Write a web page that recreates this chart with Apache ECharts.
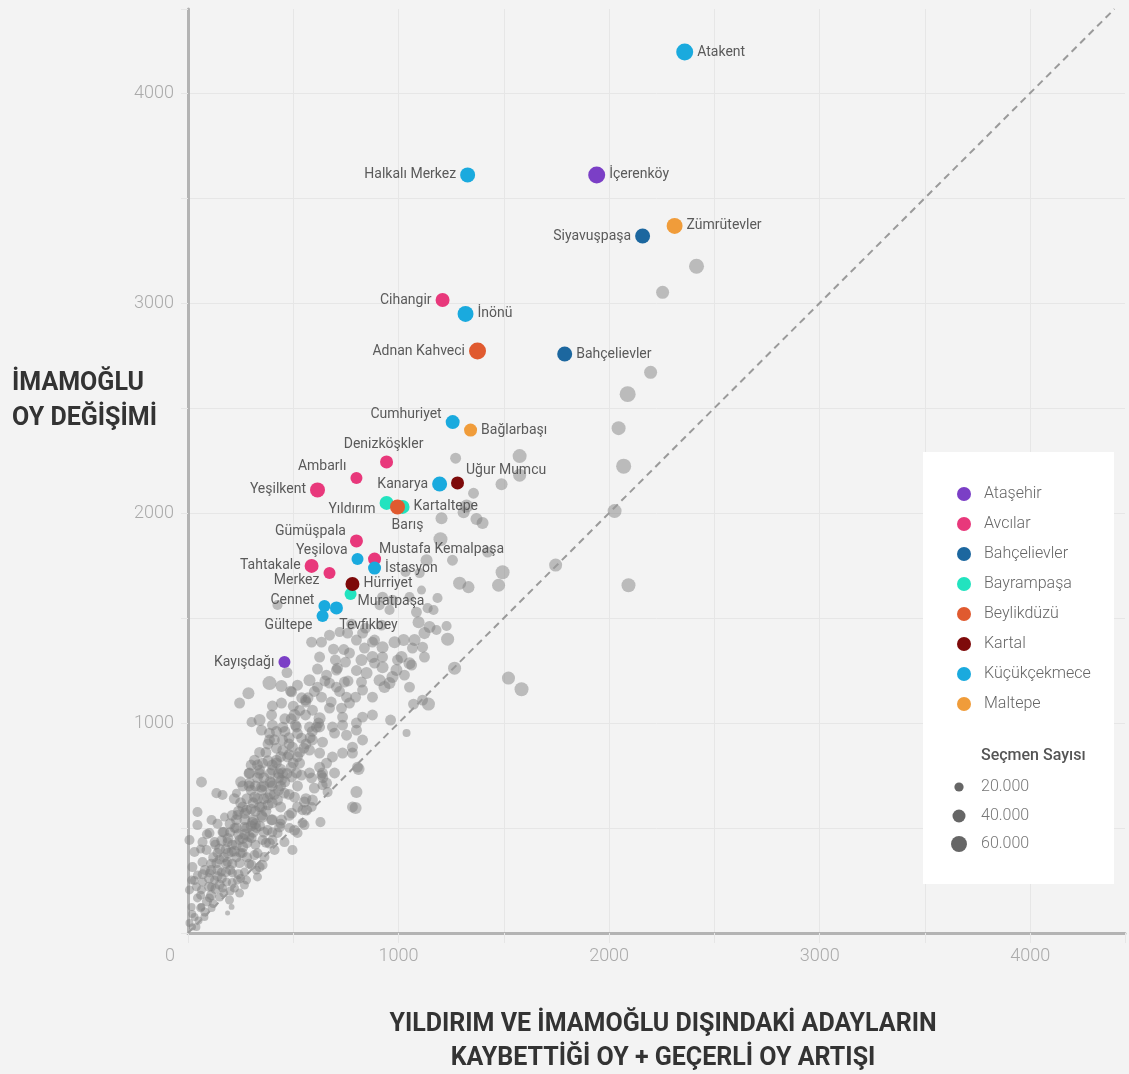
<!DOCTYPE html>
<html>
<head>
<meta charset="utf-8">
<script src="https://cdn.jsdelivr.net/npm/echarts@6.0.0/dist/echarts.min.js"></script>
<style>
  html, body { margin: 0; padding: 0; background: #f3f3f3; }
  #chart { width: 1129px; height: 1074px; }
</style>
</head>
<body>
<div id="chart"></div>
<script>
// ilçeler ve renkleri (lejant sırası)
const districts = ['Ataşehir', 'Avcılar', 'Bahçelievler', 'Bayrampaşa', 'Beylikdüzü', 'Kartal', 'Küçükçekmece', 'Maltepe']
const districtColors = ['#7b3fc6', '#e8387b', '#1c679f', '#22e3bf', '#e05a2f', '#7e0a0a', '#1aaade', '#f09c3a']

// öne çıkan mahalleler: [ad, ilçe, x, y, seçmen]
const highlighted = [
  ['Atakent', 'Küçükçekmece', 2359, 4195, 68000],
  ['Halkalı Merkez', 'Küçükçekmece', 1328, 3610, 53000],
  ['İçerenköy', 'Ataşehir', 1941, 3610, 68000],
  ['Zümrütevler', 'Maltepe', 2311, 3367, 60000],
  ['Siyavuşpaşa', 'Bahçelievler', 2159, 3319, 53000],
  ['Cihangir', 'Avcılar', 1209, 3014, 46000],
  ['İnönü', 'Küçükçekmece', 1318, 2948, 60000],
  ['Adnan Kahveci', 'Beylikdüzü', 1375, 2771, 68000],
  ['Bahçelievler', 'Bahçelievler', 1789, 2757, 53000],
  ['Cumhuriyet', 'Küçükçekmece', 1257, 2433, 46000],
  ['Bağlarbaşı', 'Maltepe', 1342, 2395, 40000],
  ['Denizköşkler', 'Avcılar', 943, 2243, 40000],
  ['Ambarlı', 'Avcılar', 800, 2167, 34000],
  ['Yeşilkent', 'Avcılar', 615, 2110, 53000],
  ['Kanarya', 'Küçükçekmece', 1195, 2138, 53000],
  ['Uğur Mumcu', 'Kartal', 1280, 2143, 40000],
  ['Yıldırım', 'Bayrampaşa', 943, 2048, 46000],
  ['Kartaltepe', 'Bayrampaşa', 1019, 2029, 46000],
  ['Barış', 'Beylikdüzü', 995, 2029, 53000],
  ['Gümüşpala', 'Avcılar', 800, 1867, 40000],
  ['Yeşilova', 'Küçükçekmece', 805, 1781, 34000],
  ['Mustafa Kemalpaşa', 'Avcılar', 886, 1781, 40000],
  ['İstasyon', 'Küçükçekmece', 886, 1738, 40000],
  ['Tahtakale', 'Avcılar', 587, 1748, 46000],
  ['Merkez', 'Avcılar', 672, 1714, 34000],
  ['Hürriyet', 'Kartal', 781, 1662, 46000],
  ['Muratpaşa', 'Bayrampaşa', 772, 1614, 34000],
  ['Cennet', 'Küçükçekmece', 648, 1557, 34000],
  ['Tevfikbey', 'Küçükçekmece', 705, 1548, 40000],
  ['Gültepe', 'Küçükçekmece', 639, 1510, 34000],
  ['Kayışdağı', 'Ataşehir', 458, 1290, 34000]
]

// diğer mahalleler: [x, y, seçmen]
const otherPoints = [
  [2415,3175,53000],[2254,3051,40000],[2197,2670,40000],[2088,2566,60000],[2045,2404,46000],
  [2069,2223,53000],[2026,2009,46000],[1746,1752,40000],[2092,1656,46000],[1575,2271,46000],
  [1575,2180,40000],[1271,2261,28000],[1489,2137,34000],[1356,2094,28000],[1323,2033,40000],
  [1309,2004,34000],[1370,1971,34000],[1399,1952,34000],[1204,1975,34000],[1199,1875,46000],
  [1133,1775,34000],[1256,1775,28000],[1423,1814,28000],[1494,1718,46000],[1475,1656,40000],
  [1290,1666,40000],[1332,1647,34000],[1185,1595,24000],[1233,1399,40000],[1266,1261,40000],
  [1522,1214,40000],[1584,1161,46000],[1142,1090,40000],[1071,1090,28000],[962,1014,28000],
  [1038,952,15000],[1100,1714,24000],[924,1599,28000],[971,1585,28000],[957,1538,24000],
  [910,1561,24000],[1138,1547,24000],[1166,1538,24000],[1085,1528,28000],[1095,1480,34000],
  [1147,1457,34000],[1123,1428,34000],[1076,1395,34000],[1024,1395,34000],[981,1385,34000],
  [924,1361,34000],[876,1385,28000],[838,1357,28000],[767,1333,28000],[1123,1314,28000],
  [1066,1357,28000],[1014,1314,34000],[1052,1285,34000],[990,1252,34000],[876,1314,34000],
  [824,1300,34000],[748,1290,28000],[705,1252,28000],[848,1238,34000],[924,1266,34000],
  [910,1204,34000],[1028,1228,28000],[957,1190,34000],[824,1195,28000],[743,1195,28000],
  [1052,1171,28000],[672,1418,28000],[634,1385,28000],[587,1385,28000],[691,1352,28000],
  [758,1428,28000],[800,1395,28000],[829,1428,28000],[919,1466,28000],[886,1395,28000],
  [1114,1361,28000],[625,1314,28000],[615,1257,28000],[577,1204,34000],[658,1228,28000],
  [710,1261,28000],[672,1190,28000],[705,1171,28000],[753,1123,28000],[615,1171,28000],
  [634,1123,28000],[558,1109,28000],[487,1152,28000],[444,1176,34000],[387,1190,46000],
  [287,1142,34000],[245,1095,28000],[401,1081,28000],[444,1095,28000],[340,1014,34000],
  [397,1038,28000],[506,1038,34000],[558,1038,28000],[591,1061,28000],[625,1023,34000],
  [672,1071,28000],[729,1071,28000],[767,1095,28000],[796,1123,28000],[829,1157,28000],
  [886,1285,28000],[924,1314,28000],[995,1300,28000],[971,1219,34000],[933,1171,34000],
  [876,1123,28000],[876,1038,28000],[829,1028,28000],[800,1000,28000],[734,990,28000],
  [686,981,28000],[625,981,28000],[577,981,28000],[515,981,28000],[401,990,28000],
  [349,966,28000],[302,1004,24000],[387,919,28000],[449,919,28000],[496,885,28000],
  [539,928,28000],[591,919,28000],[639,909,28000],[696,952,28000],[753,942,28000],
  [781,885,28000],[829,919,28000],[1114,1109,28000],[316,823,28000],[354,809,28000],
  [420,823,28000],[473,838,28000],[530,809,28000],[577,871,28000],[625,857,28000],
  [658,809,28000],[686,838,28000],[734,857,28000],[805,790,28000],[696,762,28000],
  [639,762,28000],[577,762,28000],[515,762,28000],[449,762,28000],[401,776,28000],
  [340,776,28000],[292,762,28000],[64,719,28000],[135,666,24000],[164,657,24000],
  [230,666,19000],[292,714,28000],[349,695,28000],[397,714,28000],[444,728,28000],
  [492,743,28000],[539,752,28000],[587,738,28000],[634,752,24000],[316,647,28000],
  [378,643,28000],[425,633,28000],[458,666,28000],[506,647,28000],[553,624,28000],
  [591,633,28000],[639,704,24000],[663,671,24000],[45,576,24000],[45,514,24000],
  [112,538,24000],[173,552,19000],[235,562,24000],[278,585,28000],[306,528,28000],
  [354,552,28000],[397,538,28000],[444,538,28000],[492,571,28000],[544,585,24000],
  [587,600,24000],[629,528,24000],[544,524,24000],[482,500,24000],[425,476,24000],
  [378,490,24000],[325,500,24000],[268,505,24000],[221,500,24000],[164,481,24000],
  [102,476,24000],[7,443,24000],[69,433,24000],[126,433,24000],[188,433,24000],
  [245,443,24000],[302,452,24000],[354,443,24000],[401,443,24000],[458,433,24000],
  [496,395,24000],[520,476,24000],[553,514,24000],[31,386,24000],[88,395,24000],
  [140,381,24000],[207,386,24000],[259,381,24000],[316,371,24000],[363,362,24000],
  [411,395,24000],[354,324,24000],[302,324,24000],[245,333,24000],[188,338,24000],
  [135,333,24000],[69,338,24000],[21,314,24000],[45,276,19000],[102,286,19000],
  [159,290,19000],[211,286,19000],[268,290,19000],[325,300,19000],[330,267,19000],
  [278,252,19000],[235,252,19000],[183,243,19000],[126,252,19000],[69,243,19000],
  [17,252,19000],[7,205,19000],[64,205,19000],[112,219,19000],[164,214,19000],
  [221,214,19000],[268,228,19000],[45,167,19000],[102,167,19000],[150,171,19000],
  [207,124,8000],[188,95,6000],[17,124,15000],[64,124,15000],[112,119,15000],
  [31,76,15000],[78,76,15000],[7,48,15000],[40,29,15000],[781,600,28000],
  [810,781,34000],[800,671,34000],[796,595,34000],[1062,1276,28000],[800,966,28000],
  [734,1028,28000],[781,857,28000],[625,790,28000],[658,714,28000],[563,585,28000],
  [506,490,28000],[435,505,28000],[387,428,28000],[340,314,24000],[245,190,19000],
  [197,157,19000],[21,29,12000],[387,952,28000],[492,1148,28000],[425,1562,24000],
  [777,1471,28000],[843,1452,28000],[720,1433,24000],[1052,1600,24000],[1109,1633,19000],
  [1228,1462,24000],[1180,1443,24000],[1033,1719,24000],
  // yoğun bölge
  [90,150,24000],[130,210,24000],[160,260,24000],[200,300,24000],[230,360,24000],
  [260,410,28000],[290,460,28000],[320,520,28000],[350,560,28000],[380,610,28000],
  [410,660,28000],[440,700,28000],[470,760,28000],[500,810,28000],[530,860,28000],
  [560,900,28000],[590,960,28000],[620,1000,28000],[60,120,19000],[110,180,24000],
  [150,230,24000],[180,290,24000],[210,330,24000],[250,380,24000],[280,430,28000],
  [310,480,28000],[340,510,28000],[370,580,28000],[400,620,28000],[430,680,28000],
  [460,720,28000],[490,790,28000],[520,840,28000],[550,880,28000],[580,930,28000],
  [610,980,28000],[100,260,24000],[140,300,24000],[170,360,24000],[210,420,24000],
  [240,470,28000],[270,540,28000],[300,590,28000],[330,640,28000],[360,700,28000],
  [390,760,28000],[420,810,28000],[450,870,28000],[480,930,28000],[510,990,28000],
  [20,90,15000],[50,60,15000],[80,100,19000],[120,140,19000],[170,190,19000],
  [210,240,19000],[250,260,19000],[290,330,24000],[330,380,24000],[370,430,24000],
  [400,480,24000],[440,520,24000],[480,560,28000],[520,600,28000],[560,640,28000],
  [600,690,28000],[640,740,28000],[230,540,28000],[260,600,28000],[200,480,24000],
  [180,400,24000],[300,680,28000],[340,760,28000],[380,820,28000],[420,880,28000],
  [460,960,28000],[260,700,28000],[220,640,28000],[560,1100,28000],[600,1150,28000],
  [650,1200,28000],[520,1180,28000],[470,1240,28000],[700,1300,28000],[740,1350,28000],
  [680,1100,28000],[720,1150,28000],[760,1200,28000],[800,1250,28000],[140,520,24000],
  [90,470,24000],[60,400,19000],[30,250,19000],[120,360,24000],[280,500,28000],
  [320,580,28000],[360,640,28000],[400,700,28000],[440,780,28000],[480,850,28000],
  [80,300,24000],[110,330,24000],[150,400,28000],[190,450,28000],[230,500,28000],
  [270,570,28000],[310,620,28000],[350,680,28000],[390,720,28000],[430,760,28000],
  [160,440,28000],[200,520,28000],[240,580,28000],[280,640,28000],[320,700,28000],
  [360,740,28000],[400,800,28000],[440,840,28000],[480,900,28000],[520,950,28000],
  [250,720,28000],[290,760,28000],[330,800,28000],[370,860,28000],[410,920,28000],
  [450,980,28000],[490,1020,28000],[530,1060,28000],[570,1120,28000],[300,800,28000],
  [340,860,28000],[380,900,28000],[420,960,28000],[460,1020,28000],[500,1080,28000],
  [540,1120,28000],[130,420,24000],[170,480,28000],[210,560,28000],[250,620,28000],
  [290,700,28000],[330,740,28000],[60,180,19000],[100,220,24000],[140,270,24000],
  [180,330,24000],[220,390,28000],[260,450,28000],[300,510,28000],[340,600,28000],
  [40,220,19000],[70,280,24000],[110,300,24000],[150,350,24000],[190,380,28000],
  [230,420,28000],[270,470,28000],[310,540,28000],[350,600,28000],[390,660,28000],
  [430,740,28000],[200,200,19000],[240,280,24000],[280,360,24000],[320,420,24000],
  [360,480,28000],[400,540,28000],[440,600,28000],[480,660,28000],[520,700,28000]
]

// y = x çizgisi
const diagonal = [[0, 0], [4400, 4400]]

// boyut lejantı
const sizeLegendValues = [20000, 40000, 60000]

// etiket yerleşimi (varsayılan: sağ)
const labelPlacement = {
  'Halkalı Merkez': ['left'], 'Siyavuşpaşa': ['left'], 'Cihangir': ['left'],
  'Adnan Kahveci': ['left'], 'Cumhuriyet': ['left', [0, -8]], 'Denizköşkler': ['top', [-3, 0]],
  'Ambarlı': ['left', [0, -11]], 'Yeşilkent': ['left'], 'Kanarya': ['left'],
  'Yıldırım': ['left', [0, 7]], 'Gümüşpala': ['left', [0, -9]], 'Yeşilova': ['left', [0, -8]],
  'Tahtakale': ['left'], 'Merkez': ['left', [0, 7]], 'Cennet': ['left', [0, -6]],
  'Gültepe': ['left', [0, 10]], 'Kayışdağı': ['left'], 'Uğur Mumcu': ['right', [-2, -12]],
  'Barış': ['bottom', [10, 0]], 'Mustafa Kemalpaşa': ['right', [-6, -9]],
  'Muratpaşa': ['right', [-3, 7]], 'Tevfikbey': ['bottom', [32, 0]]
}

const sizeOf = v => 2.06 * Math.sqrt(v / 1000)
const fmt = v => String(v).replace(/\B(?=(\d{3})+(?!\d))/g, '.')
const FONT = 'Roboto, "Noto Sans", sans-serif'

const chart = echarts.init(document.getElementById('chart'))

const districtSeries = districts.map((d, i) => ({
  name: d,
  type: 'scatter',
  z: 4,
  symbolSize: val => sizeOf(val[2]),
  itemStyle: { color: districtColors[i], opacity: 1 },
  label: {
    show: true,
    formatter: p => p.name,
    fontFamily: FONT,
    fontSize: 14,
    color: '#5a5a5a',
    distance: 4
  },
  data: highlighted.filter(h => h[1] === d).map(h => {
    const place = labelPlacement[h[0]] || ['right']
    return {
      name: h[0],
      value: [h[2], h[3], h[4]],
      label: { position: place[0], offset: place[1] || [0, 0] }
    }
  })
}))

// boyut lejantı grafikleri
const LX = 959, LT = 981
const sizeLegendY = [787, 816, 844]
const sizeGraphics = [{
  type: 'text', z: 20,
  style: { x: LT, y: 756, text: 'Seçmen Sayısı', fontFamily: FONT, fontSize: 16, fontWeight: 500, fill: '#555', verticalAlign: 'middle' }
}]
sizeLegendValues.forEach((v, i) => {
  sizeGraphics.push({
    type: 'circle', z: 20,
    shape: { cx: LX, cy: sizeLegendY[i], r: sizeOf(v) / 2 },
    style: { fill: '#666' }
  })
  sizeGraphics.push({
    type: 'text', z: 20,
    style: { x: LT, y: sizeLegendY[i], text: fmt(v), fontFamily: FONT, fontSize: 16, fontWeight: 300, fill: '#777', verticalAlign: 'middle' }
  })
})

chart.setOption({
  animation: false,
  backgroundColor: '#f3f3f3',
  grid: { left: 188, top: 9, width: 937, height: 924, outerBoundsMode: 'none', containLabel: false },
  xAxis: {
    type: 'value',
    min: 0, max: 4450, interval: 500,
    axisLine: { show: true, onZero: false, lineStyle: { color: '#b3b3b3', width: 3 } },
    axisTick: { show: true, length: 10, lineStyle: { color: '#e6e6e6' } },
    splitLine: { show: true, showMaxLine: false, lineStyle: { color: '#e6e6e6' } },
    axisLabel: {
      margin: 14,
      fontFamily: FONT, fontSize: 18, fontWeight: 300, color: '#aaa',
      formatter: v => (v === 0 ? '{z|0}' : (v % 1000 === 0 ? String(v) : '')),
      rich: { z: { fontFamily: FONT, fontSize: 18, fontWeight: 300, color: '#aaa', padding: [0, 36, 0, 0] } }
    },
    name: 'YILDIRIM VE İMAMOĞLU DIŞINDAKİ ADAYLARIN\nKAYBETTİĞİ OY + GEÇERLİ OY ARTIŞI',
    nameLocation: 'middle',
    nameGap: 75,
    nameTextStyle: { fontFamily: FONT, fontSize: 25, fontWeight: 'bold', color: '#333', lineHeight: 34, padding: [0, 0, 0, 13] }
  },
  yAxis: {
    type: 'value',
    min: 0, max: 4400, interval: 500,
    axisLine: { show: true, onZero: false, lineStyle: { color: '#b3b3b3', width: 3 } },
    axisTick: { show: true, length: 7, lineStyle: { color: '#e6e6e6' } },
    splitLine: { show: true, showMaxLine: false, lineStyle: { color: '#e6e6e6' } },
    axisLabel: {
      margin: 14,
      fontFamily: FONT, fontSize: 18, fontWeight: 300, color: '#aaa',
      formatter: v => (v > 0 && v % 1000 === 0 ? String(v) : '')
    }
  },
  legend: {
    data: districts,
    orient: 'vertical',
    left: 952, top: 481,
    z: 20,
    icon: 'circle',
    itemWidth: 14, itemHeight: 14, itemGap: 14,
    textStyle: { fontFamily: FONT, fontSize: 16, fontWeight: 300, color: '#666', padding: [0, 0, 0, 8] },
    selectedMode: false
  },
  graphic: [
    {
      type: 'rect', z: 10,
      shape: { x: 923, y: 452, width: 191, height: 432 },
      style: { fill: '#ffffff' }
    },
    {
      type: 'text', z: 20,
      style: { x: 12, y: 366, text: 'İMAMOĞLU\nOY DEĞİŞİMİ', fontFamily: FONT, fontSize: 25, fontWeight: 'bold', fill: '#333', lineHeight: 35 }
    },
    ...sizeGraphics
  ],
  series: [
    {
      name: 'Diğer',
      type: 'scatter',
      z: 2,
      silent: true,
      symbolSize: val => sizeOf(val[2]),
      itemStyle: { color: 'rgba(125,125,125,0.6)' },
      data: otherPoints
    },
    {
      name: 'y=x',
      type: 'line',
      z: 3,
      silent: true,
      symbol: 'none',
      lineStyle: { color: '#9a9a9a', width: 2, type: [7, 5] },
      data: diagonal
    },
    ...districtSeries
  ]
})
</script>
</body>
</html>
